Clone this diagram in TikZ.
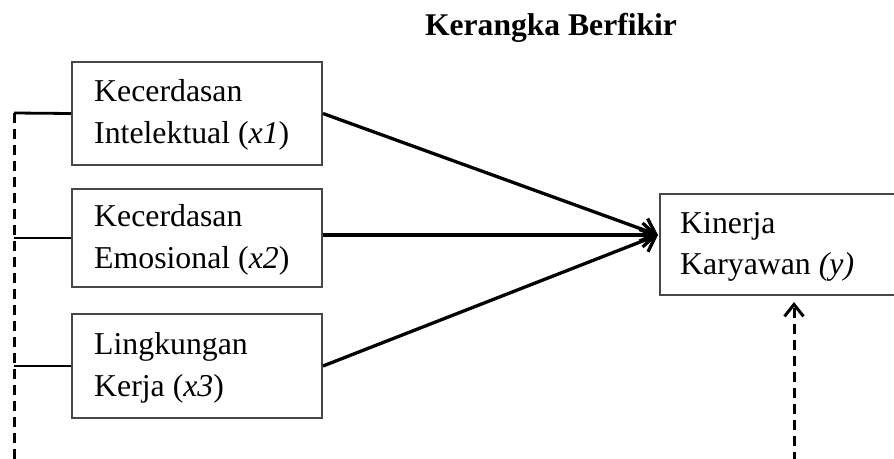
\documentclass[tikz,border=0pt]{standalone}
\usepackage{fontspec}
\setmainfont{Liberation Serif}
\usetikzlibrary{arrows.meta}
\tikzset{
  box/.style={draw=black!72, line width=2pt, rectangle, inner sep=0pt},
  txt/.style={anchor=base west, inner sep=0pt, font=\fontsize{31.8}{36}\selectfont},
  conn/.style={line width=3.3pt, -{Straight Barb[length=13pt,width=24pt,line width=3.3pt]}},
  plain/.style={line width=2.8pt},
  dline/.style={line width=3pt, dash pattern=on 10pt off 6pt},
}
\begin{document}
\begin{tikzpicture}[x=1pt,y=-1pt]
\useasboundingbox (0,0) rectangle (894,458);
\clip (0,0) rectangle (894,458);
% title
\node[anchor=base, inner sep=0pt, font=\fontsize{31.6}{36}\selectfont\bfseries] (title) at (551,35) {Kerangka Berfikir};
% boxes
\node[box, minimum width=250pt, minimum height=103pt] (b1) at (197,113.5) {};
\node[box, minimum width=250pt, minimum height=98pt] (b2) at (197,238) {};
\node[box, minimum width=250pt, minimum height=104pt] (b3) at (197,366) {};
\node[box, minimum width=260pt, minimum height=101pt, anchor=north west] (by) at (659,193) {};
% texts
\node[txt] (t1a) at (94,101) {Kecerdasan};
\node[txt] (t1b) at (94,143) {Intelektual (\textit{x1})};
\node[txt] (t2a) at (94,226) {Kecerdasan};
\node[txt] (t2b) at (94,268) {Emosional (\textit{x2})};
\node[txt] (t3a) at (94,354) {Lingkungan};
\node[txt] (t3b) at (94,396) {Kerja (\textit{x3})};
\node[txt] (tya) at (680,233) {Kinerja};
\node[txt] (tyb) at (680,274) {Karyawan \textit{(y)}};
% coordinates
\coordinate (tgt) at (658,235);
\coordinate (l1) at (14,113);
\coordinate (l2) at (14,238);
\coordinate (l3) at (14,366);
\coordinate (lbot) at (14,462);
\coordinate (dbot) at (794,462);
\coordinate (dtop) at (794,302);
% connectors
\draw[conn] (b1.east) -- (tgt);
\draw[conn] (b2.east |- tgt) -- (tgt);
\draw[conn] (b3.east) -- (tgt);
\draw[plain] (b1.west) -- (l1);
\draw[plain] (b2.west) -- (l2);
\draw[plain] (b3.west) -- (l3);
\draw[dline] (l1) -- (lbot);
\draw[dline, -{Straight Barb[length=12pt,width=19pt,line width=3pt]}] (dbot) -- (dtop);
\end{tikzpicture}
\end{document}
